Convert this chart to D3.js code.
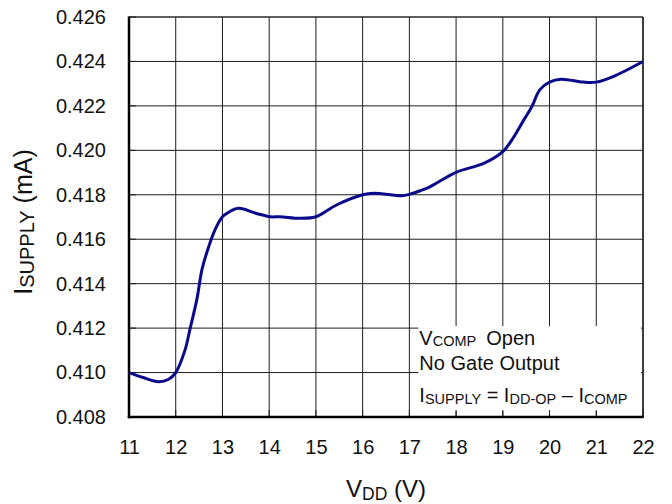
<!DOCTYPE html>
<html>
<head>
<meta charset="utf-8">
<script src="https://cdn.jsdelivr.net/npm/d3@7"></script>
<style>
  html, body { margin: 0; padding: 0; background: #fff; }
  svg { display: block; font-family: Arial, "Liberation Sans", Helvetica, sans-serif; }
</style>
</head>
<body>
<svg id="chart" width="672" height="504"></svg>
<script>
// ---- data ----
const vdd = [11.0, 11.3, 11.63, 11.85, 12.0, 12.2, 12.31, 12.45, 12.56, 12.66, 12.84, 13.0, 13.09, 13.34,
             13.73, 14.02, 14.23, 14.66, 15.0, 15.44, 16.0, 16.24, 16.84, 17.0, 17.23, 17.44, 18.0, 18.59,
             19.0, 19.24, 19.45, 19.62, 19.79, 20.0, 20.25, 20.72, 21.0, 21.36, 22.0];
const isupply = [0.41000, 0.40978, 0.40959, 0.40970, 0.41000, 0.41102, 0.41200, 0.41327, 0.41462, 0.41537,
                 0.41642, 0.41701, 0.41716, 0.41739, 0.41716, 0.41701, 0.41701, 0.41694, 0.41701, 0.41754,
                 0.41800, 0.41807, 0.41796, 0.41802, 0.41818, 0.41836, 0.41901, 0.41941, 0.41994, 0.42062,
                 0.42137, 0.42196, 0.42272, 0.42307, 0.42320, 0.42307, 0.42307, 0.42332, 0.42400];
const xTicks = [11, 12, 13, 14, 15, 16, 17, 18, 19, 20, 21, 22];
const yTicks = [0.408, 0.410, 0.412, 0.414, 0.416, 0.418, 0.420, 0.422, 0.424, 0.426];

// ---- layout ----
const L = 129, R = 643, T = 17, B = 417;
const svg = d3.select("#chart");
const x = d3.scaleLinear().domain([11, 22]).range([L, R]);
const y = d3.scaleLinear().domain([0.408, 0.426]).range([B, T]);

// gridlines
const grid = svg.append("g").attr("stroke", "#1e1e1e").attr("stroke-width", 1);
grid.selectAll("line.v").data(xTicks).join("line")
  .attr("x1", d => x(d)).attr("x2", d => x(d)).attr("y1", T).attr("y2", B);
grid.selectAll("line.h").data(yTicks).join("line")
  .attr("x1", L).attr("x2", R).attr("y1", d => y(d)).attr("y2", d => y(d));

// legend box (white background covering grid)
const bx0 = x(17) + 9, bx1 = x(22) - 2, by0 = y(0.412) - 2, by1 = y(0.408) - 6;
svg.append("rect").attr("x", bx0).attr("y", by0).attr("width", bx1 - bx0).attr("height", by1 - by0)
  .attr("fill", "#fff");

// inner ticks
const ticks = svg.append("g").attr("stroke", "#1e1e1e").attr("stroke-width", 1);
ticks.selectAll("line.bt").data(xTicks).join("line")
  .attr("x1", d => x(d)).attr("x2", d => x(d)).attr("y1", B).attr("y2", B - 7);
ticks.selectAll("line.lt").data(yTicks).join("line")
  .attr("x1", L).attr("x2", L + 7).attr("y1", d => y(d)).attr("y2", d => y(d));

// frame
svg.append("line").attr("x1", L).attr("x2", R).attr("y1", T).attr("y2", T).attr("stroke", "#333").attr("stroke-width", 1.2);
svg.append("line").attr("x1", R).attr("x2", R).attr("y1", T).attr("y2", B).attr("stroke", "#222").attr("stroke-width", 1.5);
svg.append("line").attr("x1", L).attr("x2", L).attr("y1", T - 0.5).attr("y2", B + 1.2).attr("stroke", "#000").attr("stroke-width", 2.5);
svg.append("line").attr("x1", L - 1.2).attr("x2", R + 0.7).attr("y1", B).attr("y2", B).attr("stroke", "#000").attr("stroke-width", 2.5);

// curve
const line = d3.line().x((d, i) => x(vdd[i])).y((d, i) => y(isupply[i])).curve(d3.curveCatmullRom.alpha(0.5));
svg.append("path").datum(isupply).attr("d", line)
  .attr("fill", "none").attr("stroke", "#0a0a8a").attr("stroke-width", 3).attr("stroke-linejoin", "round");

// tick labels
const xAxis = d3.axisBottom(x).tickValues(xTicks).tickSize(0).tickPadding(23).tickFormat(d3.format("d"));
const gx = svg.append("g").attr("transform", `translate(0,${B})`).call(xAxis);
gx.select(".domain").remove();
gx.selectAll("text").attr("font-size", 20).attr("fill", "#111").attr("font-family", "Arial, 'Liberation Sans', sans-serif");

const yAxis = d3.axisLeft(y).tickValues(yTicks).tickSize(0).tickPadding(23).tickFormat(d3.format(".3f"));
const gy = svg.append("g").attr("transform", `translate(${L},0)`).call(yAxis);
gy.select(".domain").remove();
gy.selectAll("text").attr("font-size", 20).attr("fill", "#111").attr("font-family", "Arial, 'Liberation Sans', sans-serif");

// axis titles
const xt = svg.append("text").attr("x", (L + R) / 2).attr("y", 497).attr("text-anchor", "middle")
  .attr("font-size", 24).attr("fill", "#111");
xt.append("tspan").text("V");
xt.append("tspan").attr("font-size", 17.5).attr("dy", 3).text("DD");
xt.append("tspan").attr("dy", -3).text(" (V)");

const yt = svg.append("text").attr("transform", "translate(31.5,222) rotate(-90)").attr("text-anchor", "middle")
  .attr("font-size", 25).attr("fill", "#111");
yt.append("tspan").text("I");
yt.append("tspan").attr("font-size", 20).attr("dy", 2).text("SUPPLY");
yt.append("tspan").attr("dy", -2).text(" (mA)");

// legend text
const lx = x(17) + 10;
const lg = svg.append("g").attr("font-size", 20).attr("fill", "#111");
const t1 = lg.append("text").attr("x", lx).attr("y", 345);
t1.append("tspan").text("V");
t1.append("tspan").attr("font-size", 14.5).attr("dy", 0.5).text("COMP");
t1.append("tspan").attr("dy", -0.5).attr("dx", 10).text("Open");
lg.append("text").attr("x", lx).attr("y", 370).text("No Gate Output");
const t3 = lg.append("text").attr("x", lx).attr("y", 402);
t3.append("tspan").text("I");
t3.append("tspan").attr("font-size", 14.5).attr("dy", 1.5).text("SUPPLY");
t3.append("tspan").attr("dy", -1.5).text(" = I");
t3.append("tspan").attr("font-size", 14.5).attr("dy", 1.5).text("DD-OP");
t3.append("tspan").attr("dy", -1.5).text(" \u2013 I");
t3.append("tspan").attr("font-size", 14.5).attr("dy", 1.5).text("COMP");
</script>
</body>
</html>
